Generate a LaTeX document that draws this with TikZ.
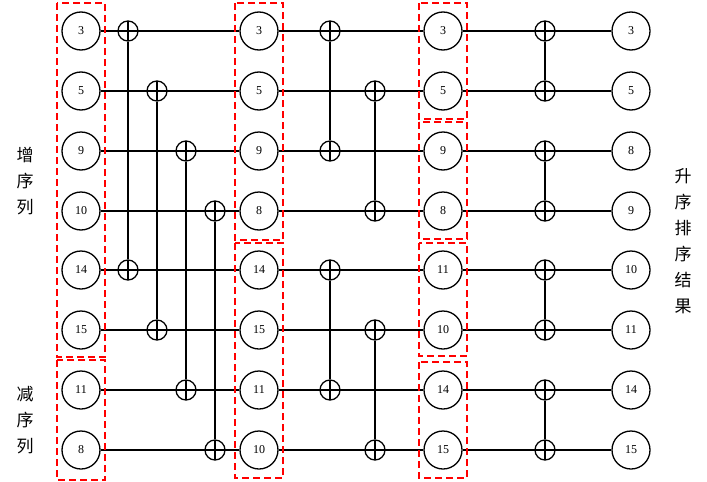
\documentclass[tikz,border=0pt]{standalone}
\usepackage{fontspec}
\setmainfont{Liberation Serif}
\newfontfamily\cjk{Noto Sans CJK SC}
\begin{document}
\begin{tikzpicture}[x=1pt,y=-1pt,
  num/.style={circle,draw,line width=1.3pt,minimum size=38pt,inner sep=0pt,font=\fontsize{12}{12}\selectfont},
  op/.style={circle,draw,line width=1.3pt,minimum size=20pt,inner sep=0pt,
    path picture={\draw[line width=1.3pt] (path picture bounding box.north)--(path picture bounding box.south)
      (path picture bounding box.west)--(path picture bounding box.east);}},
  box/.style={draw=red,line width=1.6pt,dash pattern=on 7pt off 4pt},
  lbl/.style={font=\cjk\fontsize{17}{26}\selectfont,align=center,inner sep=0pt},
  wire/.style={line width=1.3pt}]
\useasboundingbox (0,0) rectangle (707,482);
\def\ys{{31,91,151,211,270,330,390,450}}
\def\xs{{81,259,443,631}}
\foreach \c/\vals in {0/{3,5,9,10,14,15,11,8},1/{3,5,9,8,14,15,11,10},2/{3,5,9,8,11,10,14,15},3/{3,5,8,9,10,11,14,15}}{
  \foreach \v [count=\r from 0] in \vals {
    \node[num] (n\c\r) at ({\xs[\c]},{\ys[\r]}) {\v};
  }
}
\foreach \r in {0,...,7}{
  \draw[wire] (n0\r) -- (n1\r);
  \draw[wire] (n1\r) -- (n2\r);
  \draw[wire] (n2\r) -- (n3\r);
}
\foreach \x/\a/\b [count=\i] in {128/0/4,157/1/5,186/2/6,215/3/7,330/0/2,375/1/3,330/4/6,375/5/7,545/0/1,545/2/3,545/4/5,545/6/7}{
  \node[op] (pa\i) at (\x,{\ys[\a]}) {};
  \node[op] (pb\i) at (\x,{\ys[\b]}) {};
  \draw[wire] (pa\i) -- (pb\i);
}
\draw[box] (57,3) rectangle (105,357);
\draw[box] (57,360) rectangle (105,480);
\draw[box] (235,3) rectangle (283,240);
\draw[box] (235,243) rectangle (283,478);
\draw[box] (419,3) rectangle (467,119);
\draw[box] (419,122) rectangle (467,239);
\draw[box] (419,243) rectangle (467,356);
\draw[box] (419,362) rectangle (467,478);
\node[lbl] (t1) at (25,181) {增\\序\\列};
\node[lbl] (t2) at (25,420) {减\\序\\列};
\node[lbl] (t3) at (683,241) {升\\序\\排\\序\\结\\果};
\end{tikzpicture}
\end{document}
